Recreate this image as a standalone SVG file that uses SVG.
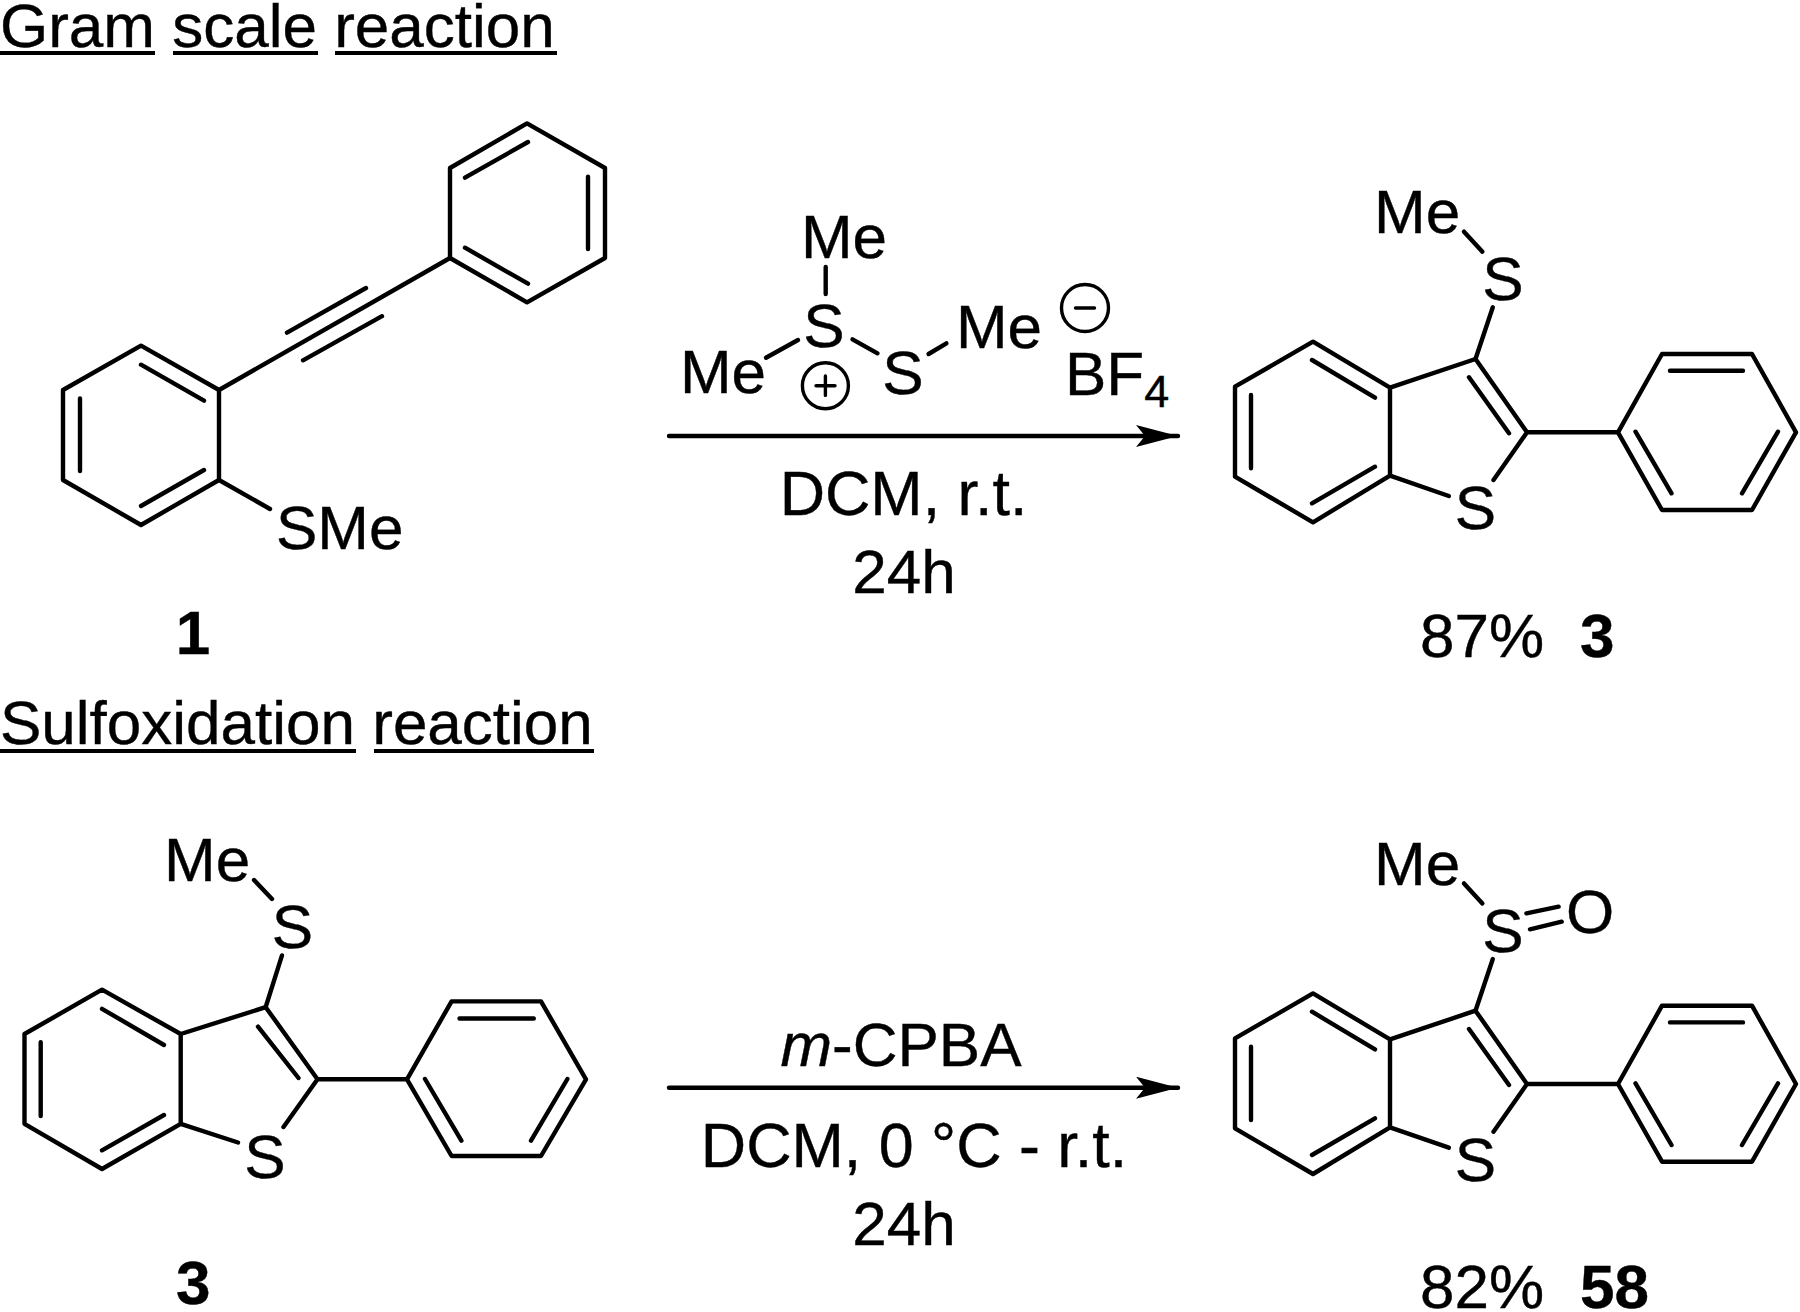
<svg xmlns="http://www.w3.org/2000/svg" width="1800" height="1312" viewBox="0 0 1800 1312">
<style>
text{font-family:"Liberation Sans",Arial,sans-serif;font-size:62px;fill:#000;stroke:#000;stroke-width:.4}
.b{font-weight:bold}
.m{text-anchor:middle}
.sub{font-size:45px}
.c{font-size:62.8px}
path,line,circle{fill:none;stroke:#000;stroke-width:4.4;stroke-linecap:round;stroke-linejoin:round}
.u{stroke-width:3.8;stroke-linecap:butt}
.thin{stroke-width:3.4}
.ah{fill:#000;stroke:none}
</style>
<defs>
<marker id="arrow" markerUnits="userSpaceOnUse" markerWidth="44" markerHeight="24" refX="42" refY="11" orient="auto"><path class="ah" d="M0 0L42 11L0 22L9 11Z"/></marker>
</defs>
<rect width="1800" height="1312" fill="#fff"/>
<g id="title-gram">
<text x="0" y="47">Gram scale reaction</text>
<line class="u" x1="0" y1="53" x2="155" y2="53"/><line class="u" x1="173" y1="53" x2="318" y2="53"/><line class="u" x1="335" y1="53" x2="557" y2="53"/>
</g>
<g id="title-sulfox">
<text x="0" y="744">Sulfoxidation reaction</text>
<line class="u" x1="0" y1="751" x2="356" y2="751"/><line class="u" x1="374" y1="751" x2="594" y2="751"/>
</g>
<g id="compound-1">
<path d="M527 123.4L605 168V258L527 302.3L450 258V168ZM465 177.6L528 142M588 176.7V249M465 247.7L528 283.7"/>
<path d="M450 258L219 390M287 332.6L366 288M303 360.3L382 316.2"/>
<path d="M219 390L141 345.6L63 390V480L141 525L219 480ZM141 364.7L204 400.6M80 398.4V471M141 506L204 470M219 480L270 509"/>
<text x="276" y="549">SMe</text>
<text class="b m" x="193" y="654">1</text>
</g>
<g id="reagent-sulfonium">
<text class="m" x="844" y="258">Me</text>
<line x1="825.7" y1="267" x2="825.7" y2="294"/>
<text class="m" x="824" y="346.7">S</text>
<text class="m" x="723" y="393.3">Me</text>
<line x1="798" y1="340" x2="766" y2="357.7"/>
<circle cx="825.4" cy="385.7" r="23" class="thin"/>
<path class="thin" d="M816 385.7H835M825.4 376V395.4"/>
<line x1="852.5" y1="339.3" x2="877.5" y2="353.3"/>
<text class="m" x="903" y="394">S</text>
<line x1="928.6" y1="354" x2="946.4" y2="343.3"/>
<text class="m" x="999" y="348.3">Me</text>
<circle cx="1085" cy="308" r="23.5" class="thin"/>
<path class="thin" d="M1075.5 308H1094.5"/>
<text x="1065" y="395">BF<tspan class="sub" dy="12">4</tspan></text>
</g>
<g id="conditions-1">
<text class="m c" x="903.5" y="515">DCM, r.t.</text>
<text class="m" x="904" y="593">24h</text>
</g>
<g id="compound-3-product">
<text x="1374" y="233.3">Me</text>
<line x1="1464" y1="231.7" x2="1482.4" y2="251.7"/>
<text class="m" x="1503" y="300">S</text>
<line x1="1492.8" y1="307.3" x2="1475.5" y2="359"/>
<path d="M1475.5 359L1390 387.7V475.7L1313 522.3L1235 476.7V386.7L1313 341.7L1390 387.7M1312 360L1375 397.7M1251 395V468.3M1312 503.3L1375 466.7"/>
<path d="M1475.5 359L1527 432.3L1493.5 480M1469 377.3L1509 433.3M1390 475.7L1448.8 496M1527 432.3H1618"/>
<text class="m" x="1475.5" y="529">S</text>
<path d="M1618 432.3L1662 354H1752L1796 432.3L1752 510H1662ZM1670 370.7H1743M1635.5 431.7L1671.5 493.3M1778 431.7L1742 493.3"/>
<text x="1420" y="656.7">87%</text>
<text class="b" x="1580" y="656.7">3</text>
</g>
<g id="compound-3-substrate">
<text x="164" y="880.5">Me</text>
<line x1="254" y1="880" x2="272" y2="899"/>
<text class="m" x="292.5" y="947.6">S</text>
<line x1="282" y1="955.4" x2="265.7" y2="1007"/>
<path d="M265.7 1007.2L180.7 1034V1123.8L102 1169L24.5 1123.8V1034L102 989.7L180.7 1034M102 1008.8L164 1045M40.7 1042.3V1116M102 1150.3L164 1115"/>
<path d="M265.7 1007.2L317.5 1079.3L283.5 1127M258 1026.7L298.5 1078M180.7 1123.8L238 1142.5M317.5 1079.3H407"/>
<text class="m" x="265" y="1177.6">S</text>
<path d="M407 1079.3L451.6 1001.4H541L586 1079.3L541 1156H451.6ZM459.5 1018.5H533.8M425 1079L461.4 1140.6M567.4 1079L531 1140.6"/>
<text class="b" x="176" y="1304">3</text>
</g>
<g id="conditions-2">
<text class="m" x="901" y="1065.7"><tspan font-style="italic">m</tspan>-CPBA</text>
<text class="m c" x="914" y="1166.7">DCM, 0 °C - r.t.</text>
<text class="m" x="904" y="1245">24h</text>
</g>
<g id="compound-58">
<text x="1374" y="885">Me</text>
<line x1="1464" y1="883.4" x2="1482.4" y2="903.4"/>
<text class="m" x="1503" y="951.7">S</text>
<path d="M1526.4 913.3L1558.6 906.7M1530 929.3L1561.7 921.7"/>
<text class="m" x="1590" y="932.7">O</text>
<line x1="1492.8" y1="959" x2="1475.5" y2="1010.7"/>
<path d="M1475.5 1010.7L1390 1039.4V1127.4L1313 1174L1235 1128.4V1038.4L1313 993.4L1390 1039.4M1312 1011.7L1375 1049.4M1251 1046.7V1120M1312 1155L1375 1118.4"/>
<path d="M1475.5 1010.7L1527 1084L1493.5 1131.7M1469 1029L1509 1085M1390 1127.4L1448.8 1147.7M1527 1084H1618"/>
<text class="m" x="1475.5" y="1180.7">S</text>
<path d="M1618 1084L1662 1005.7H1752L1796 1084L1752 1161.7H1662ZM1670 1022.4H1743M1635.5 1083.4L1671.5 1145M1778 1083.4L1742 1145"/>
<text x="1420" y="1308.3">82%</text>
<text class="b" x="1580" y="1308.3">58</text>
</g>
<g id="connectors">
<line x1="669" y1="436" x2="1178" y2="436" marker-end="url(#arrow)" stroke-linecap="butt"/>
<line x1="669" y1="1087.7" x2="1178" y2="1087.7" marker-end="url(#arrow)" stroke-linecap="butt"/>
</g>
</svg>
